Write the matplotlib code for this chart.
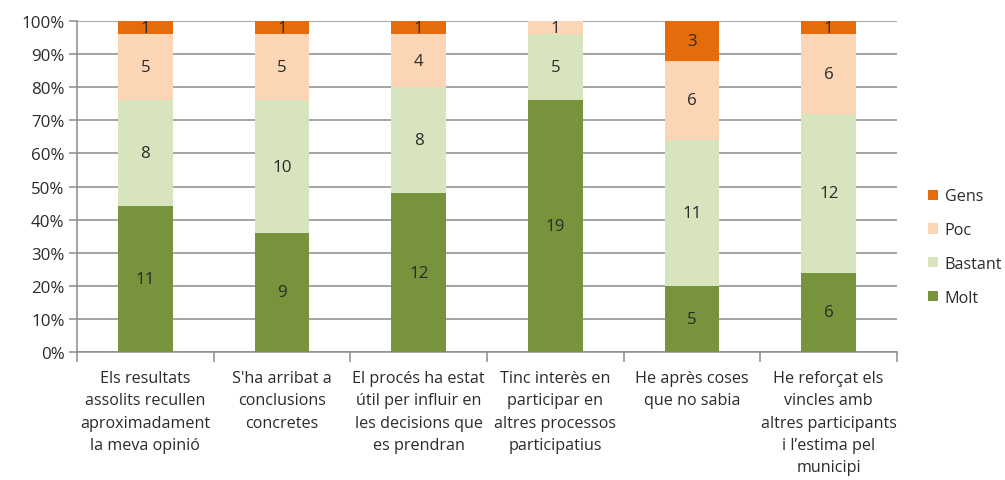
import matplotlib
matplotlib.use("Agg")
import matplotlib.pyplot as plt
import numpy as np

categories = [
    "Els resultats\nassolits recullen\naproximadament\nla meva opinió",
    "S'ha arribat a\nconclusions\nconcretes",
    "El procés ha estat\nútil per influir en\nles decisions que\nes prendran",
    "Tinc interès en\nparticipar en\naltres processos\nparticipatius",
    "He après coses\nque no sabia",
    "He reforçat els\nvincles amb\naltres participants\ni l’estima pel\nmunicipi",
]
series_names = ["Molt", "Bastant", "Poc", "Gens"]
molt = [11, 9, 12, 19, 5, 6]
bastant = [8, 10, 8, 5, 11, 12]
poc = [5, 5, 4, 1, 6, 6]
gens = [1, 1, 1, 0, 3, 1]
colors = ["#77933C", "#D7E4BD", "#FCD5B5", "#E46C0A"]
y_ticks = [0, 10, 20, 30, 40, 50, 60, 70, 80, 90, 100]

plt.rcParams['font.family'] = ['Open Sans', 'DejaVu Sans']
FS = 11.6
TC = '#2b2b2b'

fig = plt.figure(figsize=(10.05, 4.81), dpi=100)
ax = fig.add_axes([77/1005, 1 - 353/481, (897-77)/1005, (353-22)/481])

data = np.array([molt, bastant, poc, gens], dtype=float)
totals = data.sum(axis=0)
pct = data / totals * 100
x = np.arange(len(categories))
bottom = np.zeros(len(categories))
bars = []
for i, name in enumerate(series_names):
    b = ax.bar(x, pct[i], 0.4, bottom=bottom, color=colors[i], label=name, zorder=3)
    bars.append(b)
    for j in range(len(categories)):
        if data[i, j] > 0:
            ax.text(x[j], bottom[j] + pct[i, j] / 2, f"{int(data[i, j])}",
                    ha='center', va='center', fontsize=FS + 0.6, color=TC, zorder=4)
    bottom += pct[i]

ax.set_xlim(-0.5, len(categories) - 0.5)
ax.set_ylim(0, 100)
ax.set_yticks(y_ticks)
ax.set_yticklabels([f"{v}%" for v in y_ticks], fontsize=FS + 0.6, color=TC)
ax.yaxis.grid(True, color='#8C8C8C', linewidth=1.1, zorder=0)
ax.tick_params(axis='y', length=6, color='#8C8C8C', width=1.1, pad=3)

ax.set_xticks(x)
ax.set_xticklabels(categories, fontsize=FS, color=TC, linespacing=1.52)
ax.set_xticks(np.arange(len(categories) + 1) - 0.5, minor=True)
ax.tick_params(axis='x', which='major', length=0, pad=13)
ax.tick_params(axis='x', which='minor', length=7, color='#8C8C8C', width=1.1)

for s in ['top', 'right']:
    ax.spines[s].set_visible(False)
for s in ['left', 'bottom']:
    ax.spines[s].set_color('#8C8C8C')
    ax.spines[s].set_linewidth(1.1)

handles = [bars[3], bars[2], bars[1], bars[0]]
labels = ["Gens", "Poc", "Bastant", "Molt"]
leg = fig.legend(handles, labels, loc='upper left', bbox_to_anchor=(922/1005, 1 - 183/481),
                 frameon=False, fontsize=FS, handlelength=0.6, handleheight=0.6,
                 handletextpad=0.4, labelspacing=1.1, borderaxespad=0)
for t in leg.get_texts():
    t.set_color(TC)

fig.savefig("out.png", dpi=100)
